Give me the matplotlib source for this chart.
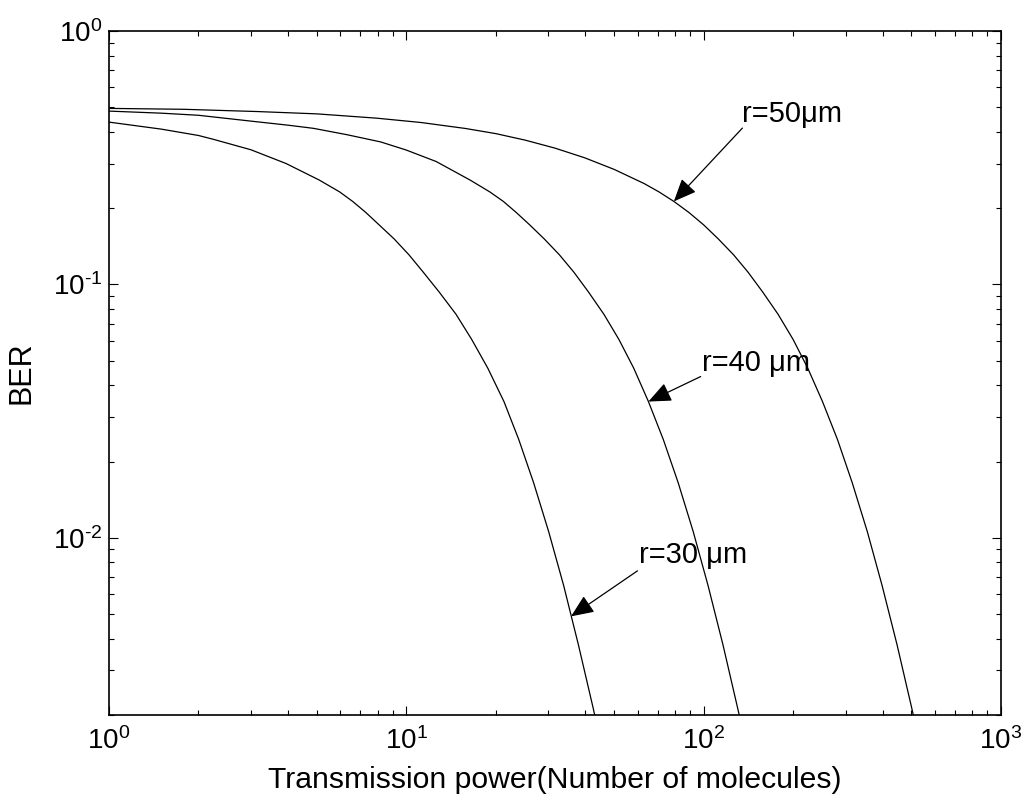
import matplotlib
matplotlib.use("Agg")
import matplotlib.pyplot as plt
from matplotlib.ticker import FuncFormatter, LogLocator
import numpy as np

plt.rcParams['font.family'] = ['Liberation Sans', 'DejaVu Sans']
plt.rcParams['mathtext.fontset'] = 'custom'
plt.rcParams['mathtext.rm'] = 'Liberation Sans'
plt.rcParams['mathtext.it'] = 'Liberation Sans:italic'
plt.rcParams['mathtext.bf'] = 'Liberation Sans:bold'

# BER vs number of released molecules, one curve per distance
x_r50 = [1, 1.78, 3.16, 5.0, 7.94, 11.2, 15.8, 20, 25.1, 31.6, 39.8, 50.1, 63.1, 70.8,
         79.4, 89.1, 100, 112, 126, 141, 158, 178, 200, 224, 251, 282, 316, 355, 398,
         447, 501, 507]
ber_r50 = [0.495, 0.491, 0.481, 0.471, 0.453, 0.4355, 0.4125, 0.3936, 0.371, 0.3451,
           0.316, 0.2841, 0.250, 0.2317, 0.2126, 0.1925, 0.1718, 0.1512, 0.131, 0.1118,
           0.0933, 0.0762, 0.0606, 0.0467, 0.0345, 0.0244, 0.0165, 0.0106, 0.0065,
           0.00379, 0.00213, 0.002]

x_r40 = [1, 1.5, 2, 3, 4, 4.87, 6.3, 8.2, 10, 12.6, 16.4, 19.1, 21.2, 23.4, 26.0, 29.1,
         32.7, 36.6, 41.0, 46.2, 51.9, 58.2, 65.2, 73.2, 82.1, 92.2, 103.4, 116.1,
         130.1, 131.7]
ber_r40 = [0.483, 0.474, 0.465, 0.441, 0.425, 0.413, 0.39, 0.365, 0.339, 0.3055, 0.258,
           0.2317, 0.2126, 0.1925, 0.1718, 0.1512, 0.131, 0.1118, 0.0933, 0.0762,
           0.0606, 0.0467, 0.0345, 0.0244, 0.0165, 0.0106, 0.0065, 0.00379, 0.00213,
           0.002]

x_r30 = [1, 1.5, 2, 2.24, 3, 3.94, 5.1, 5.97, 6.6, 7.3, 8.1, 9.1, 10.2, 11.4, 12.9,
         14.7, 16.6, 18.8, 21.3, 23.9, 26.8, 30.1, 33.8, 37.9, 42.5, 43.0]
ber_r30 = [0.437, 0.41, 0.387, 0.374, 0.34, 0.30, 0.258, 0.2317, 0.2126, 0.1925,
           0.1718, 0.1512, 0.131, 0.1118, 0.0933, 0.0762, 0.0606, 0.0467, 0.0345,
           0.0244, 0.0165, 0.0106, 0.0065, 0.00379, 0.00213, 0.002]

# label text, text anchor (left, baseline), arrow tail, arrow tip
labels = ['r=50\u03bcm', 'r=40 \u03bcm', 'r=30 \u03bcm']
label_pos = [(135, 0.437), (98.5, 0.0457), (60.4, 0.00797)]
arrow_tail = [(135, 0.414), (97.7, 0.0433), (59.9, 0.00741)]
arrow_tip = [(79.4, 0.2126), (65.2, 0.0345), (35.8, 0.0049)]


def pow10_label(v, pos):
    # plain hyphen in the exponent instead of a math minus
    e = int(round(np.log10(v)))
    exp = str(e).replace('-', r'\text{-}')
    return r'$10^{%s}$' % exp


fig = plt.figure(figsize=(10.31, 8), dpi=100)
ax = fig.add_axes([0.1057, 0.10625, 0.8652, 0.855])

for xs, ys in [(x_r50, ber_r50), (x_r40, ber_r40), (x_r30, ber_r30)]:
    ax.plot(xs, ys, color='black', lw=0.9)

ax.set_xscale('log')
ax.set_yscale('log')
ax.set_xlim(1, 1000)
ax.set_ylim(2e-3, 1)
for axis in (ax.xaxis, ax.yaxis):
    axis.set_major_locator(LogLocator(base=10))
    axis.set_major_formatter(FuncFormatter(pow10_label))

for txt, pos, tail, tip in zip(labels, label_pos, arrow_tail, arrow_tip):
    ax.text(pos[0], pos[1], txt, fontsize=21, ha='left', va='baseline')
    ax.annotate('', xy=tip, xytext=tail,
                arrowprops=dict(arrowstyle='-|>,head_length=0.7,head_width=0.3',
                                color='black', lw=0.9, shrinkA=0, shrinkB=0,
                                mutation_scale=20))

ax.tick_params(which='both', direction='in', top=True, right=True, labelsize=20)
ax.tick_params(which='major', length=6.5, width=0.8)
ax.tick_params(which='minor', length=3.5, width=0.8)
ax.tick_params(axis='x', which='major', pad=9)
ax.tick_params(axis='y', which='major', pad=5)
for sp in ax.spines.values():
    sp.set_linewidth(1.2)

ax.set_xlabel('Transmission power(Number of molecules)', fontsize=21.7, va='top')
ax.xaxis.set_label_coords(0.5, -0.074)
ax.set_ylabel('BER', fontsize=22)
ax.yaxis.set_label_coords(-0.081, 0.5)

fig.savefig('out.png', dpi=100)
